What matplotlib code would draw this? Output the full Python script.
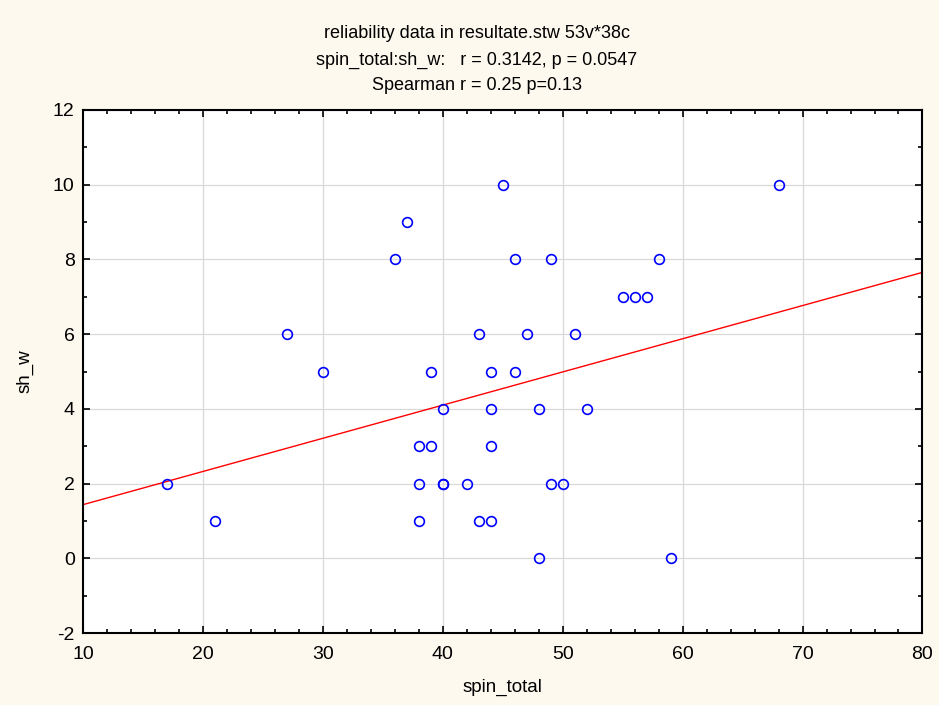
import matplotlib

matplotlib.use("Agg")
import matplotlib.pyplot as plt
import numpy as np
from matplotlib.ticker import MultipleLocator

plt.rcParams["font.family"] = ["Liberation Sans", "DejaVu Sans"]
plt.rcParams["axes.unicode_minus"] = False

# spin_total (x) and sh_w (y), 38 cases
spin_total = [17, 21, 27, 30, 36, 37, 38, 38, 38, 39, 39, 40, 40, 40, 42, 43, 43,
              44, 44, 44, 44, 45, 46, 46, 47, 48, 48, 49, 49, 50, 51, 52, 55, 56,
              57, 58, 59, 68]
sh_w = [2, 1, 6, 5, 8, 9, 3, 2, 1, 5, 3, 4, 2, 2, 2, 6, 1,
        5, 4, 3, 1, 10, 8, 5, 6, 4, 0, 8, 2, 2, 6, 4, 7, 7,
        7, 8, 0, 10]

title_lines = [
    "reliability data in resultate.stw 53v*38c",
    "spin_total:sh_w:   r = 0.3142, p = 0.0547",
    "Spearman r = 0.25 p=0.13",
]

bg = "#fdf9ee"

fig = plt.figure(figsize=(9.39, 7.05), dpi=100, facecolor=bg)
ax = fig.add_axes([0.0884, 0.102, 0.894, 0.742])
ax.set_facecolor("white")

x = np.array(spin_total, dtype=float)
y = np.array(sh_w, dtype=float)
slope, intercept = np.polyfit(x, y, 1)
xl = np.array([10, 80])
ax.plot(xl, intercept + slope * xl, color="red", linewidth=1.0, zorder=2)

ax.plot(x, y, linestyle="none", marker="o", markersize=7, markerfacecolor="none",
        markeredgecolor="blue", markeredgewidth=1.2, zorder=3)

ax.set_xlim(10, 80)
ax.set_ylim(-2, 12)
ax.xaxis.set_major_locator(MultipleLocator(10))
ax.xaxis.set_minor_locator(MultipleLocator(2))
ax.yaxis.set_major_locator(MultipleLocator(2))
ax.yaxis.set_minor_locator(MultipleLocator(1))
ax.grid(True, which="major", color="#d9d9d9", linewidth=0.9, zorder=0)
ax.set_axisbelow(True)
ax.tick_params(which="both", direction="in", top=True, right=True, colors="black",
               labelsize=14, width=1.2)
ax.tick_params(which="major", length=5, pad=6)
ax.tick_params(axis="x", which="major", pad=9)
ax.tick_params(which="minor", length=3)
for s in ax.spines.values():
    s.set_linewidth(1.5)
    s.set_color("black")

ax.set_xlabel("spin_total", fontsize=13.5, labelpad=12)
ax.set_ylabel("sh_w", fontsize=13.5, labelpad=14)

for i, line in enumerate(title_lines):
    fig.text(477 / 939, 1 - (34 + 26 * i) / 705, line, ha="center", va="center",
             fontsize=13)

fig.savefig("out.png", dpi=100, facecolor=bg)
